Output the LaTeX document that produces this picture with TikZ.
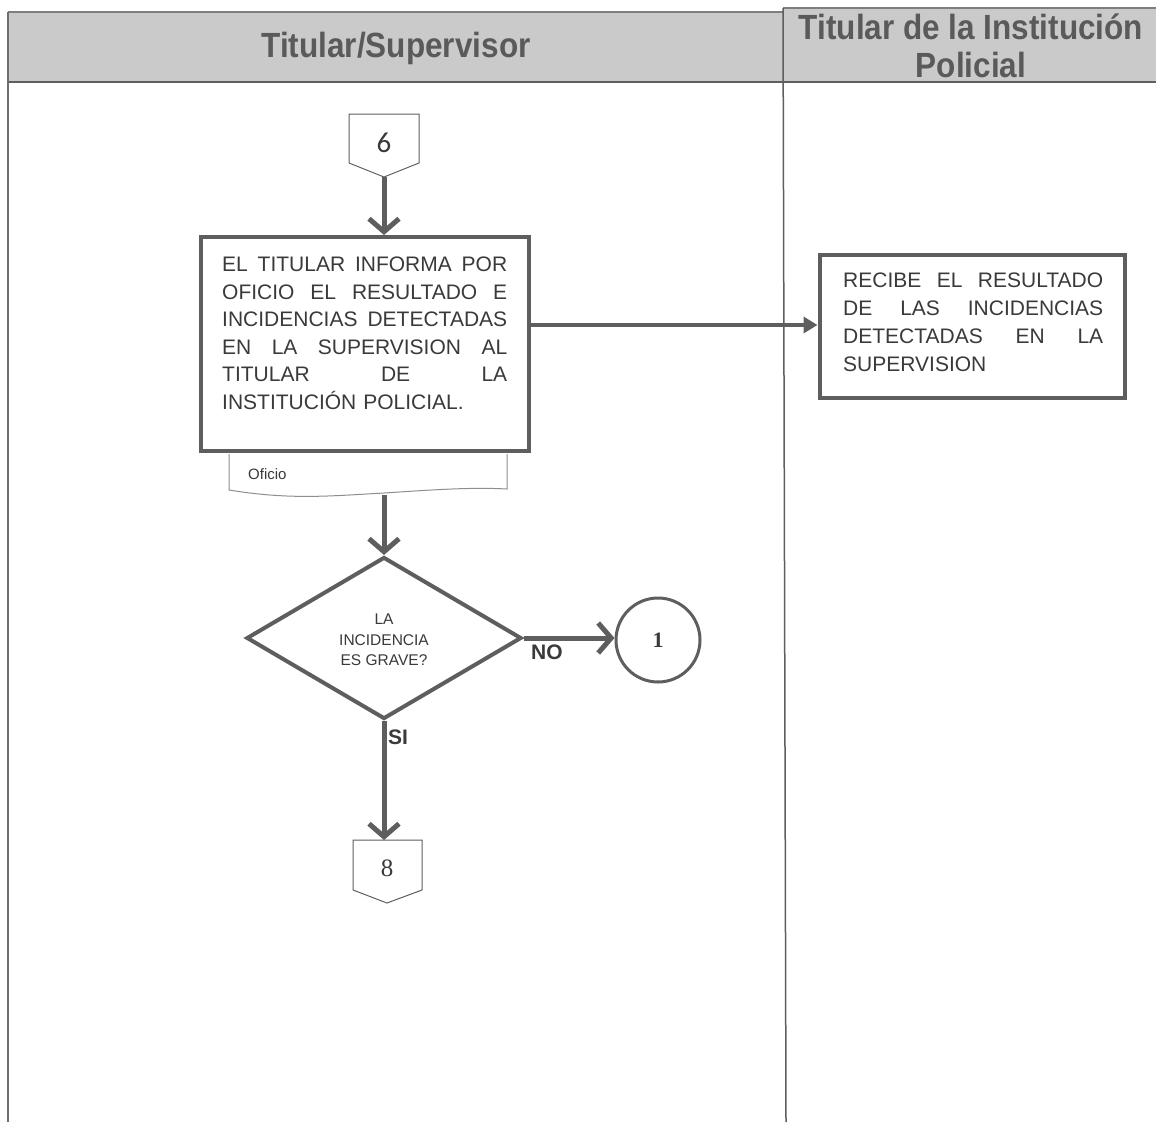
\documentclass[tikz,border=0pt]{standalone}
\usepackage{fontspec}
\setmainfont{Liberation Sans}
\newfontfamily\hdrfont[FakeStretch=0.9]{Liberation Sans}
\newfontfamily\calfont{Carlito}
\newfontfamily\serfont{Liberation Serif}
\usetikzlibrary{arrows.meta,shapes.geometric}
\definecolor{hdrfill}{HTML}{CACACA}
\definecolor{hdrtext}{HTML}{5A5A5A}
\definecolor{lnc}{HTML}{5E5E5E}
\definecolor{txc}{HTML}{3A3A3A}
\newcommand{\jl}[2]{\leavevmode\hbox to #1{#2}}
\tikzset{
  hdr/.style={font=\hdrfont\bfseries\fontsize{35}{35}\selectfont, text=hdrtext, align=center, inner sep=0pt},
  procbox/.style={draw=lnc, line width=4pt, rectangle, inner sep=0pt},
  bodytext/.style={text=txc, inner sep=0pt, align=left},
  flowarrow/.style={draw=lnc, line width=5pt, -{Straight Barb[length=13pt,width=30pt,line width=5pt]}},
  thinarrow/.style={draw=lnc, line width=4pt, -{Triangle[length=14pt,width=16pt]}},
  offpage/.style={draw=lnc, line width=1pt},
  lbl/.style={text=txc, font=\bfseries\fontsize{21}{21}\selectfont, inner sep=0pt}
}
\begin{document}
\begin{tikzpicture}[x=1pt,y=-1pt]
\useasboundingbox (0,0) rectangle (1156,1125);
\fill[white] (0,0) rectangle (1156,1125);
% header band
\fill[hdrfill] (8,12) -- (783,12) -- (783,8) -- (1156,8) -- (1156,82) -- (8,82) -- cycle;
\draw[lnc!80, line width=1.5pt] (8,12) -- (783,12);
\draw[lnc!80, line width=1.5pt] (783,8) -- (1156,8);
\draw[lnc, line width=1.8pt] (8,82) -- (1156,82);
\draw[lnc!90, line width=1.5pt] (8,12) -- (8,1122);
\draw[lnc, line width=1.5pt] (783,8) -- (786,1122);
\node[hdr] (h1) at (396,48) {Titular/Supervisor};
\node[hdr] (h2) at (971,46) {Titular de la Institución\\[3pt]Policial};

% off-page connector 6
\draw[offpage] (349,114) -- (419,114) -- (419,163) -- (384,177) -- (349,163) -- cycle;
\node[text=txc, font=\calfont\fontsize{29}{29}\selectfont] (n6) at (384,143) {6};
\coordinate (c6) at (384,177);

% process box
\node[procbox, minimum width=328pt, minimum height=214pt] (proc) at (365,344) {};
\node[bodytext, text width=285pt, anchor=north west, font=\fontsize{21}{27.5}\selectfont] (ptext) at (222,257) {%
\jl{285pt}{EL\hfill TITULAR\hfill INFORMA\hfill POR}\\
\jl{285pt}{OFICIO\hfill EL\hfill RESULTADO\hfill E}\\
\jl{285pt}{INCIDENCIAS\hfill DETECTADAS}\\
\jl{285pt}{EN\hfill LA\hfill SUPERVISION\hfill AL}\\
\jl{285pt}{TITULAR\hfill DE\hfill LA}\\
INSTITUCIÓN POLICIAL.};

% document shape
\node[minimum width=278pt, minimum height=44pt, inner sep=0pt] (doc) at (368,474) {};
\draw[lnc!70, line width=1pt] (229,454) -- (229,490) .. controls (290,500) and (330,496) .. (384,493) .. controls (430,490) and (470,487) .. (507,489) -- (507,454);
\node[text=txc, font=\fontsize{15}{15}\selectfont, anchor=west, inner sep=0pt] (oficio) at (248,474) {Oficio};
\coordinate (docb) at (384,495);

% decision
\node[diamond, draw=lnc, line width=4pt, minimum width=275pt, minimum height=162pt, inner sep=0pt] (dec) at (384,638) {};
\node[text=txc, align=center, font=\fontsize{15.5}{20.5}\selectfont, inner sep=0pt] (dtext) at (384,640) {LA\\INCIDENCIA\\ES GRAVE?};

% connector 1
\node[circle, draw=lnc, line width=3pt, minimum size=84pt, inner sep=0pt, text=txc, font=\serfont\bfseries\fontsize{22}{22}\selectfont] (con1) at (658,640) {1};

% off-page connector 8
\draw[offpage] (353,840) -- (422,840) -- (422,890) -- (387,903) -- (353,890) -- cycle;
\node[text=txc, font=\serfont\fontsize{25}{25}\selectfont] (n8) at (387,868) {8};
\coordinate (c8) at (384,840);

% receiving box
\node[procbox, minimum width=305pt, minimum height=143pt] (recv) at (972,326) {};
\node[bodytext, text width=260pt, anchor=north west, font=\fontsize{21}{28}\selectfont] (rtext) at (843,273) {%
\jl{260pt}{RECIBE\hfill EL\hfill RESULTADO}\\
\jl{260pt}{DE\hfill LAS\hfill INCIDENCIAS}\\
\jl{260pt}{DETECTADAS\hfill EN\hfill LA}\\
SUPERVISION};

% connectors
\draw[flowarrow] (c6) -- (proc.north -| c6);
\draw[thinarrow] (proc.east |- 0,325) -- (recv.west |- 0,325);
\draw[flowarrow] (docb) -- (dec.north);
\draw[flowarrow] (dec.east) -- (con1.west |- dec.east);
\draw[flowarrow] (dec.south) -- (c8);
\node[lbl, anchor=north west] (lno) at (531,645) {NO};
\node[lbl, anchor=north west] (lsi) at (388,730) {SI};
\end{tikzpicture}
\end{document}
